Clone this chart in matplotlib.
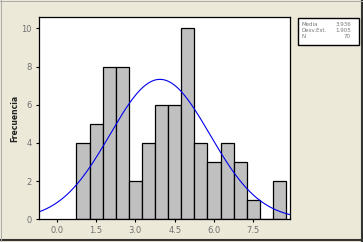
import numpy as np
import matplotlib
matplotlib.use("Agg")
import matplotlib.pyplot as plt
from matplotlib.patches import Rectangle

bin_edges = [0.75, 1.25, 1.75, 2.25, 2.75, 3.25, 3.75, 4.25, 4.75, 5.25,
             5.75, 6.25, 6.75, 7.25, 7.75, 8.25, 8.75]
counts = [4, 5, 8, 8, 2, 4, 6, 6, 10, 4, 3, 4, 3, 1, 0, 2]
mean = 3.936
std = 1.905
n = 70
x_ticks = [0.0, 1.5, 3.0, 4.5, 6.0, 7.5]
x_labels = ["0.0", "1.5", "3.0", "4.5", "6.0", "7.5"]
y_ticks = [0, 2, 4, 6, 8, 10]
stats_labels = ["Media", "Desv.Est.", "N"]
stats_values = ["3.936", "1.905", "70"]

W, H = 363, 242
fig = plt.figure(figsize=(W / 100, H / 100), dpi=100)
fig.patch.set_facecolor("#ECE9D8")

ax = fig.add_axes([39 / W, 1 - 219.3 / H, (290 - 39) / W, (219.3 - 17.3) / H])
ax.set_facecolor("white")

edges = np.array(bin_edges)
widths = np.diff(edges)
ax.bar(edges[:-1], counts, width=widths, align="edge",
       facecolor="#C0C0C0", edgecolor="black", linewidth=0.9)

xs = np.linspace(-0.68, 8.9, 400)
bw = widths[0]
ys = n * bw / (std * np.sqrt(2 * np.pi)) * np.exp(-0.5 * ((xs - mean) / std) ** 2)
ax.plot(xs, ys, color="#0000EE", linewidth=0.8)

ax.set_xlim(-0.68, 8.9)
ax.set_ylim(0, 10.58)
ax.set_xticks(x_ticks)
ax.set_xticklabels(x_labels)
ax.set_yticks(y_ticks)
ax.tick_params(axis="both", labelsize=6, labelcolor="#707070", color="black",
               length=2.5, width=0.8, direction="out", pad=2.5)
for s in ax.spines.values():
    s.set_linewidth(0.9)
    s.set_color("black")

fig.text(15 / W, 1 - 118 / H, "Frecuencia", rotation=90, ha="center", va="center",
         fontsize=5.5, fontweight="bold", color="#222222")

# stats box
fig.patches.append(Rectangle((297.5 / W, 1 - 45 / H), (359 - 297.5) / W, (45 - 18) / H,
                             transform=fig.transFigure, facecolor="white",
                             edgecolor="black", linewidth=1.0))
row_y = [24, 30.5, 36.8]
for lab, val, yy in zip(stats_labels, stats_values, row_y):
    fig.text(301.5 / W, 1 - yy / H, lab, fontsize=4, color="#777777", ha="left", va="center")
    fig.text(351 / W, 1 - yy / H, val, fontsize=4, color="#777777", ha="right", va="center")

# outer frame
fig.add_artist(plt.Line2D([1 - 1.5 / W, 1 - 1.5 / W], [0, 1], transform=fig.transFigure,
                          color="#333333", linewidth=1.5))
fig.add_artist(plt.Line2D([0, 1], [2.5 / H, 2.5 / H], transform=fig.transFigure,
                          color="#333333", linewidth=1.5))
fig.add_artist(plt.Line2D([0.5 / W, 0.5 / W], [0, 1], transform=fig.transFigure,
                          color="#AAAAAA", linewidth=0.7))
fig.add_artist(plt.Line2D([0, 1], [1 - 0.5 / H, 1 - 0.5 / H], transform=fig.transFigure,
                          color="#AAAAAA", linewidth=0.7))

fig.savefig("out.png", dpi=100, facecolor=fig.get_facecolor())
